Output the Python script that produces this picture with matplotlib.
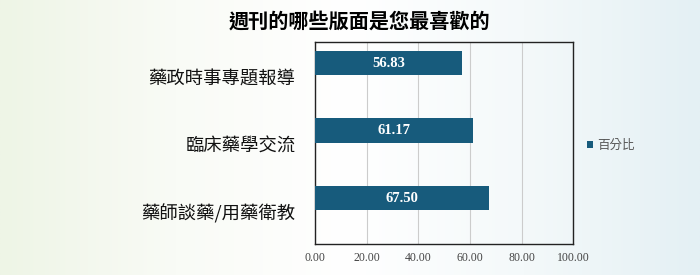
import numpy as np
import matplotlib.pyplot as plt
from matplotlib.colors import LinearSegmentedColormap

categories = ['藥師談藥/用藥衛教', '臨床藥學交流', '藥政時事專題報導']
values = [67.50, 61.17, 56.83]
series_name = '百分比'
title = '週刊的哪些版面是您最喜歡的'

BAR_COLOR = '#175b7c'
CJK = ['Noto Sans CJK TC', 'DejaVu Sans']
SERIF = 'Liberation Serif'

fig = plt.figure(figsize=(7, 2.75), dpi=100)

# background gradient: pale green left -> white -> pale blue right
bg = fig.add_axes([0, 0, 1, 1], zorder=-10)
cmap = LinearSegmentedColormap.from_list('bg', ['#eef5e6', '#f9fbf6', '#ffffff', '#f4f9fa', '#e4f0f4'])
bg.imshow(np.linspace(0, 1, 256)[None, :], aspect='auto', cmap=cmap, extent=[0, 1, 0, 1])
bg.axis('off')

ax = fig.add_axes([0.45, 0.113, 0.369, 0.734])
ax.set_facecolor('none')
y = np.arange(len(categories))
bars = ax.barh(y, values, height=0.36, color=BAR_COLOR, label=series_name, zorder=3)
for b, v in zip(bars, values):
    ax.text(v / 2, b.get_y() + b.get_height() / 2, f'{v:.2f}', color='white',
            ha='center', va='center', fontsize=10.5, fontweight='bold', family=SERIF, zorder=4)

ax.set_xlim(0, 100)
ax.set_ylim(-0.68, 2.31)
ax.set_xticks(np.arange(0, 101, 20))
ax.set_xticklabels([f'{t:.2f}' for t in np.arange(0, 101, 20)], family=SERIF, fontsize=8.5, color='#444444')
# category labels sit a little below their bars in the original
ax.set_yticks(y - 0.21)
ax.set_yticklabels(categories, family=CJK, fontsize=13.2, color='#111111')
ax.tick_params(axis='x', length=0, pad=6)
ax.tick_params(axis='y', length=0, pad=14)
ax.grid(axis='x', color='#cccccc', linewidth=0.8, zorder=0)
for s in ax.spines.values():
    s.set_color('#222222')
    s.set_linewidth(1.0)

fig.text(0.514, 0.922, title, ha='center', va='center', family=CJK, fontsize=14.5, fontweight='bold')

leg = ax.legend(loc='center left', bbox_to_anchor=(1.01, 0.49), frameon=False,
                prop={'family': CJK, 'size': 9}, handlelength=0.5, handleheight=0.5,
                handletextpad=0.3)
for t in leg.get_texts():
    t.set_color('#555555')

fig.savefig('out.png', dpi=100)
